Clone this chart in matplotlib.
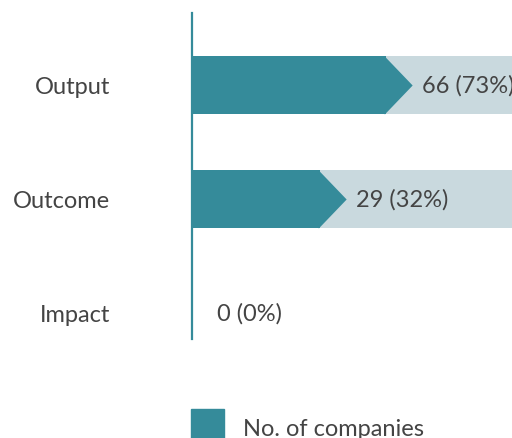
import numpy as np
import matplotlib
matplotlib.use("Agg")
from matplotlib import pyplot as plt
from matplotlib.patches import Patch

#-------------- Data ---------------
categories = ['Output', 'Outcome', 'Impact']
companies = [66, 29, 0]
percent = [73, 32, 0]
legend_label = 'No. of companies'

#-------------- Style ---------------
DARK = '#358b9a'
LIGHT = '#c9d9de'
TEXT = '#444444'
FONT_SIZE = 17
plt.rcParams['font.family'] = ['Lato', 'DejaVu Sans']

fig = plt.figure(figsize=(5.12, 4.39), dpi=100)
ax = fig.add_axes([192 / 512, 99 / 439, 320 / 512, 326 / 439])

# bars are drawn on a square-root scale
ax.set_xscale('function', functions=(lambda v: np.sqrt(np.clip(v, 0, None)), np.square))
xmax = 180
ax.set_xlim(0, xmax)
ax.set_ylim(2 + 26 / 114, -72 / 114)

ypos = np.arange(len(categories))
bar_h = 0.51

for y, val in zip(ypos, companies):
    if val > 0:
        ax.barh(y, xmax * 2, height=bar_h, color=LIGHT, linewidth=0, zorder=1)
        ax.barh(y, val, height=bar_h, color=DARK, linewidth=0, zorder=2)

# arrow tip on each bar, sized from the bar height in points
h_px = abs(ax.transData.transform((0, 0))[1] - ax.transData.transform((0, bar_h))[1])
h_pt = h_px * 72 / fig.dpi
tip = [(-0.06, -1), (0.9, 0), (-0.06, 1), (-0.06, -1)]
tip_pt = h_pt * 0.45

for y, val, pct in zip(ypos, companies, percent):
    if val > 0:
        ax.plot(val, y, marker=tip, markersize=h_pt, color=DARK,
                markeredgewidth=0, zorder=3, clip_on=False)
        offset = tip_pt + 7
    else:
        offset = 18
    ax.annotate(f'{val} ({pct}%)', xy=(val, y), xytext=(offset, 0),
                textcoords='offset points', va='center', ha='left',
                fontsize=FONT_SIZE, color=TEXT, annotation_clip=False)

# axes styling
for side in ['top', 'right', 'bottom']:
    ax.spines[side].set_visible(False)
ax.spines['left'].set_color(DARK)
ax.spines['left'].set_linewidth(1.6)
ax.set_xticks([])
ax.set_yticks(ypos)
ax.set_yticklabels(categories)
ax.tick_params(axis='y', length=0, pad=59, labelsize=FONT_SIZE, labelcolor=TEXT)
ax.xaxis.set_minor_locator(matplotlib.ticker.NullLocator())

ax.legend(handles=[Patch(color=DARK, label=legend_label)], loc='upper left',
          bbox_to_anchor=(191 / 512, 1 - 410 / 439), bbox_transform=fig.transFigure,
          frameon=False, borderpad=0, borderaxespad=0, handlelength=1.4,
          handleheight=1.97, handletextpad=0.8, fontsize=FONT_SIZE, labelcolor=TEXT)

fig.savefig('out.png', dpi=100)
